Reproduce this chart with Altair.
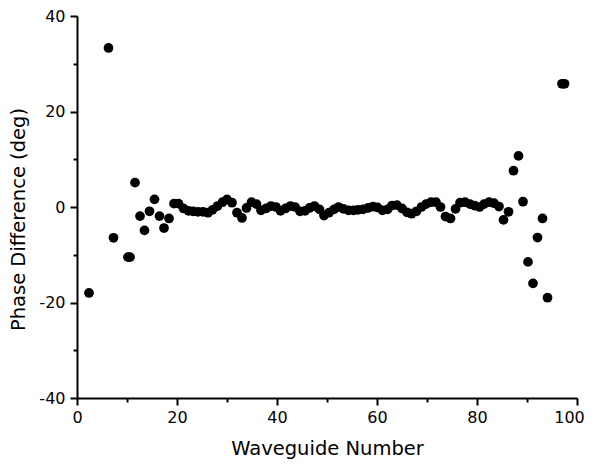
import altair as alt
import pandas as pd

# Waveguide number (x) and phase difference in degrees (y)
wg_edge_left = [2.4, 6.3, 7.3, 10.2, 10.6]
ph_edge_left = [-18.0, 33.3, -6.45, -10.5, -10.5]

wg_main = [11.6, 12.6, 13.5, 14.5, 15.5, 16.5, 17.4, 18.4, 19.4, 20.3,
           21.3, 22.3, 23.2, 24.2, 25.2, 26.2, 27.1, 28.1, 29.1, 30.0,
           31.0, 32.0, 33.0, 33.9, 34.9, 35.9, 36.8, 37.8, 38.8, 39.8,
           40.7, 41.7, 42.7, 43.6, 44.6, 45.6, 46.5, 47.5, 48.5, 49.4,
           50.4, 51.4, 52.3, 53.3, 54.3, 55.3, 56.2, 57.2, 58.2, 59.2,
           60.1, 61.1, 62.1, 63.0, 64.0, 65.0, 66.0, 66.9, 67.9, 68.9,
           69.8, 70.8, 71.8, 72.7, 73.7, 74.7, 75.7, 76.6, 77.6, 78.6,
           79.5, 80.5, 81.4, 82.4, 83.4, 84.4, 85.3, 86.3, 87.3, 88.3,
           89.2, 90.2, 91.2, 92.1, 93.1, 94.1]
ph_main = [5.1, -1.9, -4.9, -0.9, 1.6, -1.9, -4.4, -2.4, 0.7, 0.7,
           -0.3, -0.8, -0.9, -1.0, -1.0, -1.2, -0.6, 0.2, 1.0, 1.6,
           0.9, -1.2, -2.3, -0.2, 1.0, 0.6, -0.7, -0.3, 0.2, 0.0,
           -0.8, -0.3, 0.2, 0.0, -0.9, -0.8, -0.2, 0.2, -0.5, -1.8,
           -1.2, -0.5, 0.0, -0.4, -0.7, -0.7, -0.6, -0.5, -0.2, 0.1,
           -0.1, -0.7, -0.5, 0.3, 0.4, -0.3, -1.1, -1.4, -0.9, 0.0,
           0.6, 1.0, 1.0, 0.0, -2.0, -2.4, -0.4, 0.9, 1.0, 0.6,
           0.3, 0.0, 0.6, 1.0, 0.8, 0.1, -2.7, -1.0, 7.6, 10.7,
           1.1, -11.5, -16.0, -6.4, -2.4, -19.0]

wg_edge_right = [97.0, 97.5]
ph_edge_right = [25.8, 25.8]

x_ticks = [0, 10, 20, 30, 40, 50, 60, 70, 80, 90, 100]
y_ticks = [-40, -30, -20, -10, 0, 10, 20, 30, 40]

df = pd.DataFrame({
    "wg": wg_edge_left + wg_main + wg_edge_right,
    "ph": ph_edge_left + ph_main + ph_edge_right,
})

font = "DejaVu Sans"
label_expr = "datum.value % 20 === 0 ? replace(datum.label, '\u2212', '-') : ''"
tick_size = {"condition": {"test": "datum.value % 20 === 0", "value": 7}, "value": 4}

x_axis = alt.Axis(
    values=x_ticks, labelExpr=label_expr, tickSize=tick_size, labelFlush=False,
    labelOffset={"condition": {"test": "datum.value === 100", "value": -8}, "value": 0},
    grid=False, domainColor="black", domainWidth=2, tickColor="black", tickWidth=2,
    labelFont=font, labelFontSize=16, labelColor="black", labelPadding=4,
    titleFont=font, titleFontSize=19.5, titleFontWeight="normal", titleColor="black",
    titleY=56, titleBaseline="alphabetic",
)
y_axis = alt.Axis(
    values=y_ticks, labelExpr=label_expr, tickSize=tick_size, labelFlush=False,
    grid=False, domainColor="black", domainWidth=2, tickColor="black", tickWidth=2,
    labelFont=font, labelFontSize=16, labelColor="black", labelPadding=5,
    titleFont=font, titleFontSize=19.5, titleFontWeight="normal", titleColor="black",
    titleX=-59, titleY=203, titleAngle=-90, titleBaseline="middle", titleAlign="center",
)

chart = alt.Chart(df).mark_circle(size=95, color="black", opacity=1).encode(
    x=alt.X("wg:Q", title="Waveguide Number",
            scale=alt.Scale(domain=[0, 100], nice=False, zero=False), axis=x_axis),
    y=alt.Y("ph:Q", title="Phase Difference (deg)",
            scale=alt.Scale(domain=[-40, 40], nice=False, zero=False), axis=y_axis),
).properties(
    width=500, height=382,
    autosize=alt.AutoSizeParams(type="none"),
    padding={"left": 69, "top": 8, "right": 9, "bottom": 61},
    background="white",
).configure_view(stroke=None)

chart.save("out.html", embed_options={"renderer": "svg", "actions": False})
